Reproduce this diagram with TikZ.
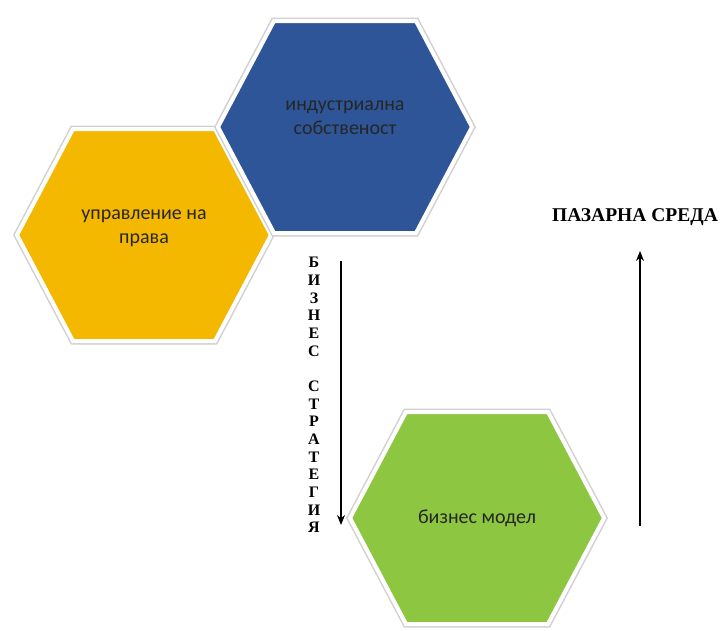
\documentclass[tikz,border=0pt]{standalone}
\usepackage{fontspec}
\setmainfont{Liberation Serif}
\newfontfamily\cellfont{Carlito}
\usetikzlibrary{arrows.meta,positioning}

\definecolor{rightsgold}{HTML}{F5B800}
\definecolor{propblue}{HTML}{2E5597}
\definecolor{modelgreen}{HTML}{8DC641}

\begin{document}
\begin{tikzpicture}[x=1pt, y=-1pt, >={Stealth[length=10pt,width=8pt]},
		hexcell/.style={draw=white, line width=4pt, line join=miter},
		hexglow/.style={draw=black!18, line width=7pt, line join=miter},
		hexshadow/.style={fill=black!35, opacity=0.4, xshift=2pt, yshift=-3pt},
		celltext/.style={font=\cellfont\fontsize{20}{24}\selectfont, text=black!85, align=center},
		lettercol/.style={font=\bfseries\fontsize{16}{17.67}\selectfont, align=center},
		flowarrow/.style={->, line width=1.4pt}]
		\def\hexw{127}
		\def\hexh{106}
		\def\hexe{71}

		\useasboundingbox (0,0) rectangle (720,630);

		% Rights management cell
		\begin{scope}[shift={(144,235)}]
			\fill[hexshadow] (-\hexw,0) -- (-\hexe,-\hexh) -- (\hexe,-\hexh) -- (\hexw,0) -- (\hexe,\hexh) -- (-\hexe,\hexh) -- cycle;
			\draw[hexglow] (-\hexw,0) -- (-\hexe,-\hexh) -- (\hexe,-\hexh) -- (\hexw,0) -- (\hexe,\hexh) -- (-\hexe,\hexh) -- cycle;
			\draw[hexcell, fill=rightsgold] (-\hexw,0) -- (-\hexe,-\hexh) -- (\hexe,-\hexh) -- (\hexw,0) -- (\hexe,\hexh) -- (-\hexe,\hexh) -- cycle;
			\node[celltext] (rights) at (0,-7) {управление на\\права};
		\end{scope}

		% Industrial property cell
		\begin{scope}[shift={(345,127)}]
			\fill[hexshadow] (-\hexw,0) -- (-\hexe,-\hexh) -- (\hexe,-\hexh) -- (\hexw,0) -- (\hexe,\hexh) -- (-\hexe,\hexh) -- cycle;
			\draw[hexglow] (-\hexw,0) -- (-\hexe,-\hexh) -- (\hexe,-\hexh) -- (\hexw,0) -- (\hexe,\hexh) -- (-\hexe,\hexh) -- cycle;
			\draw[hexcell, fill=propblue] (-\hexw,0) -- (-\hexe,-\hexh) -- (\hexe,-\hexh) -- (\hexw,0) -- (\hexe,\hexh) -- (-\hexe,\hexh) -- cycle;
			\node[celltext] (property) at (0,-9) {индустриална\\собственост};
		\end{scope}

		% Business model cell
		\begin{scope}[shift={(477,518)}]
			\fill[hexshadow] (-\hexw,0) -- (-\hexe,-\hexh) -- (\hexe,-\hexh) -- (\hexw,0) -- (\hexe,\hexh) -- (-\hexe,\hexh) -- cycle;
			\draw[hexglow] (-\hexw,0) -- (-\hexe,-\hexh) -- (\hexe,-\hexh) -- (\hexw,0) -- (\hexe,\hexh) -- (-\hexe,\hexh) -- cycle;
			\draw[hexcell, fill=modelgreen] (-\hexw,0) -- (-\hexe,-\hexh) -- (\hexe,-\hexh) -- (\hexw,0) -- (\hexe,\hexh) -- (-\hexe,\hexh) -- cycle;
			\node[celltext] (model) at (0,0) {бизнес модел};
		\end{scope}

		% Strategy column and arrow
		\node[lettercol] (strategy) at (314,395) {Б\\И\\З\\Н\\Е\\С\\~\\С\\Т\\Р\\А\\Т\\Е\\Г\\И\\Я};
		\coordinate (stratTop) at (341,261);
		\coordinate (stratEnd) at (341,525);
		\draw[flowarrow] (stratTop) -- (stratEnd);

		% Market environment and arrow
		\node[font=\bfseries\fontsize{19.5}{22}\selectfont] (market) at (635,217) {ПАЗАРНА СРЕДА};
		\coordinate (marketFoot) at (640,526);
		\coordinate (marketHead) at (640,251);
		\draw[flowarrow] (marketFoot) -- (marketHead);
	\end{tikzpicture}
\end{document}
